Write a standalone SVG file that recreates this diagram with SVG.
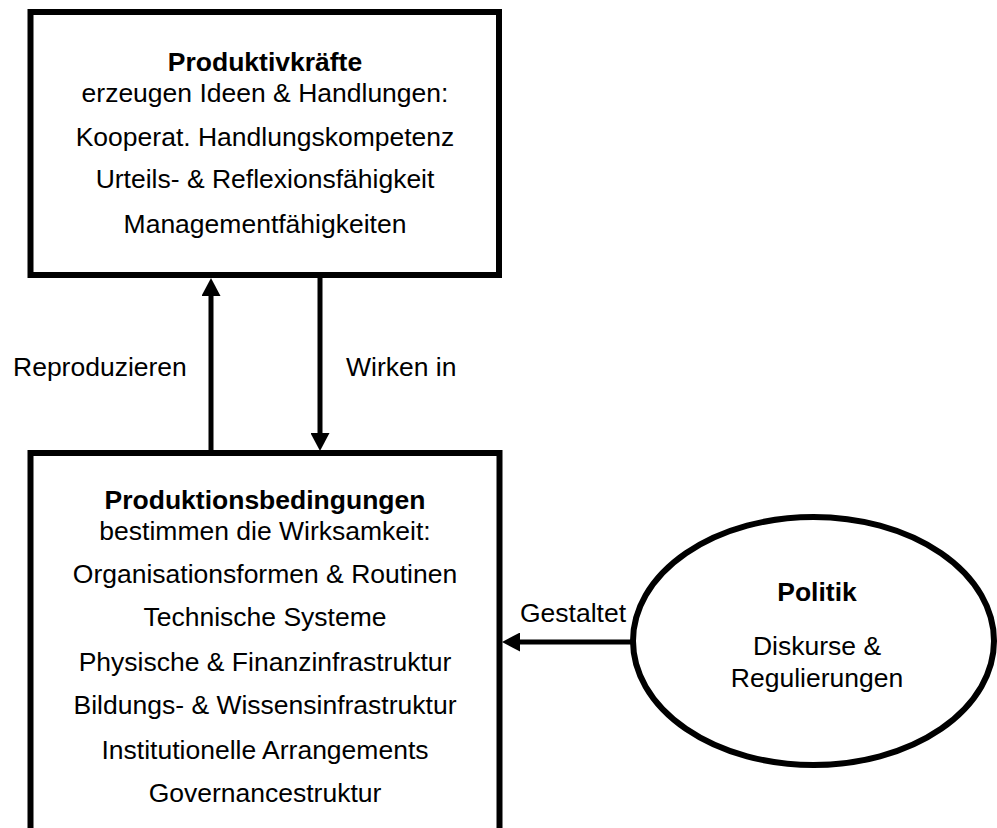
<svg xmlns="http://www.w3.org/2000/svg" width="997" height="828" viewBox="0 0 997 828">
<style>
.box{fill:#fff;stroke:#000;stroke-width:6}
.t{font-family:"Liberation Sans",Arial,Helvetica,sans-serif;font-size:26.5px;fill:#000;text-anchor:middle}
.b{font-weight:bold}
.l{font-family:"Liberation Sans",Arial,Helvetica,sans-serif;font-size:26.5px;fill:#000}
.c{stroke:#000;stroke-width:5;fill:none}
</style>
<defs>
<marker id="ah" viewBox="0 0 18 19" refX="8" refY="9.5" markerWidth="18" markerHeight="19" markerUnits="userSpaceOnUse" orient="auto">
<path d="M0,0 L18,9.5 L0,19 Z" fill="#000"/>
</marker>
</defs>
<rect width="997" height="828" fill="#fff"/>
<g id="connectors">
<line class="c" x1="211" y1="453" x2="211" y2="288" marker-end="url(#ah)"/>
<line class="c" x1="320" y1="275" x2="320" y2="441" marker-end="url(#ah)"/>
<line class="c" x1="633" y1="642" x2="512" y2="642" marker-end="url(#ah)"/>
<text class="l" x="13" y="376">Reproduzieren</text>
<text class="l" x="346" y="376">Wirken in</text>
<text class="l" x="520" y="622">Gestaltet</text>
</g>
<g id="produktivkraefte">
<rect class="box" x="30.5" y="12" width="468.5" height="263"/>
<text class="t b" x="265" y="71">Produktivkräfte</text>
<text class="t" x="265" y="102">erzeugen Ideen &amp; Handlungen:</text>
<text class="t" x="265" y="146">Kooperat. Handlungskompetenz</text>
<text class="t" x="265" y="188">Urteils- &amp; Reflexionsfähigkeit</text>
<text class="t" x="265" y="233">Managementfähigkeiten</text>
</g>
<g id="produktionsbedingungen">
<rect class="box" x="30.5" y="453" width="469" height="400"/>
<text class="t b" x="265" y="509">Produktionsbedingungen</text>
<text class="t" x="265" y="540">bestimmen die Wirksamkeit:</text>
<text class="t" x="265" y="583">Organisationsformen &amp; Routinen</text>
<text class="t" x="265" y="626">Technische Systeme</text>
<text class="t" x="265" y="671">Physische &amp; Finanzinfrastruktur</text>
<text class="t" x="265" y="714">Bildungs- &amp; Wissensinfrastruktur</text>
<text class="t" x="265" y="759">Institutionelle Arrangements</text>
<text class="t" x="265" y="802">Governancestruktur</text>
</g>
<g id="politik">
<ellipse class="box" cx="813.5" cy="641" rx="180.5" ry="124"/>
<text class="t b" x="817" y="601">Politik</text>
<text class="t" x="817" y="655">Diskurse &amp;</text>
<text class="t" x="817" y="687">Regulierungen</text>
</g>
</svg>
